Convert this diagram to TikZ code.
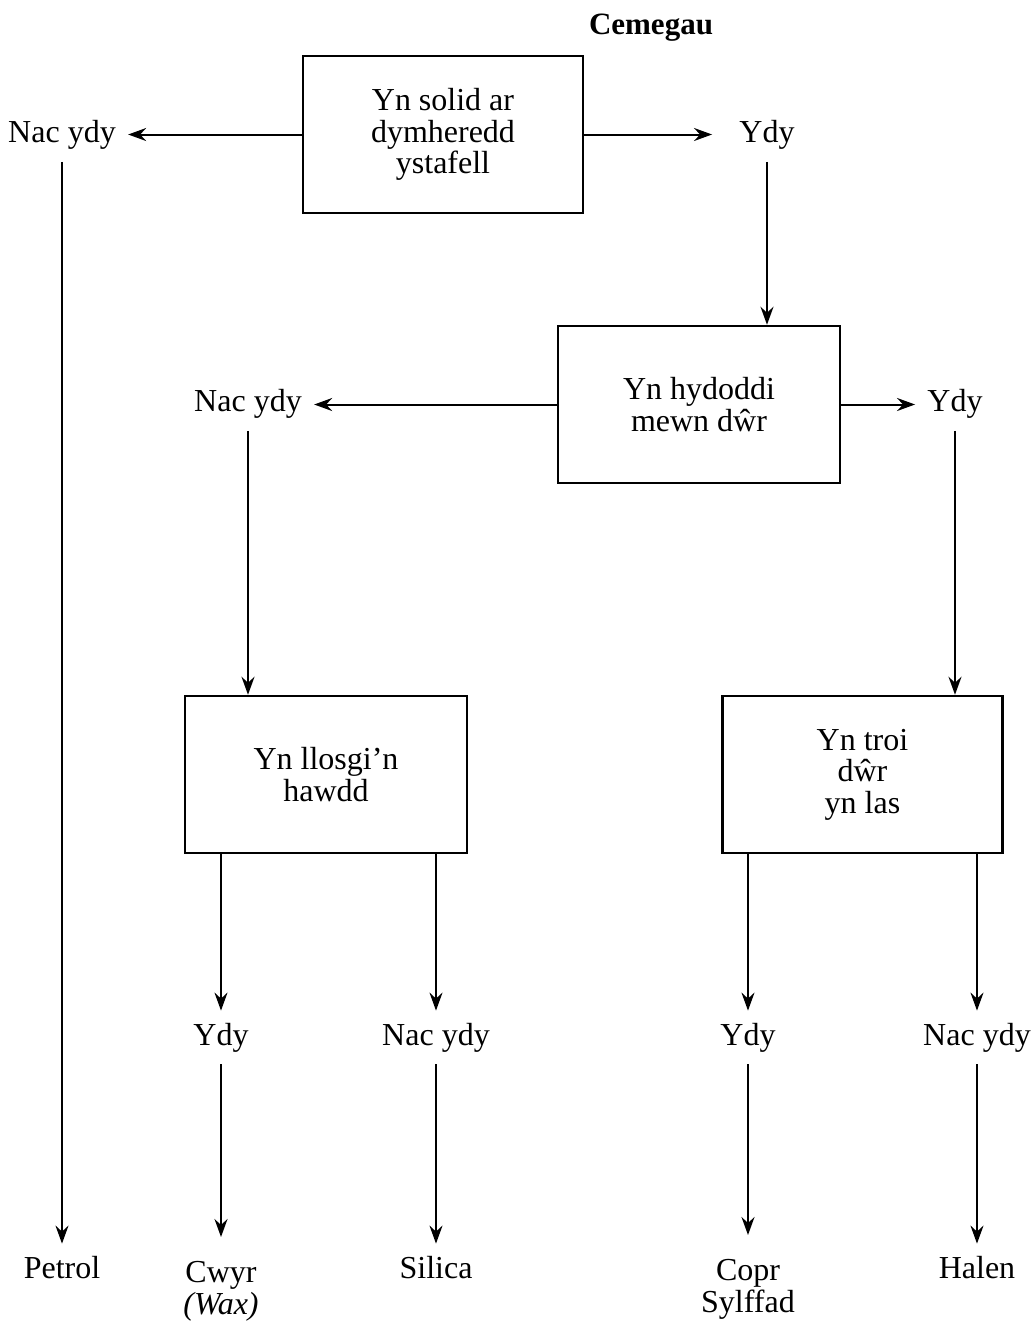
\documentclass[tikz,border=0pt]{standalone}
\usepackage{fontspec}
\setmainfont{Liberation Serif}
\usetikzlibrary{arrows.meta}

\begin{document}
\begin{tikzpicture}[x=0.5pt, y=-0.5pt,
    >={Stealth[length=9pt,width=6.5pt,inset=3pt]},
    every node/.style={font=\fontsize{16}{15.8}\selectfont},
    box/.style={draw, line width=1.25pt, minimum width=140pt, minimum height=78.5pt, align=center, inner sep=0pt},
    answer/.style={inner sep=6pt, text height=11pt, text depth=3.5pt},
    result/.style={inner xsep=6pt, inner ysep=12pt, align=center, anchor=north},
    arr/.style={->, line width=1pt}]
    \useasboundingbox (0, 0) rectangle (1033, 1324);
    \node [font=\fontsize{15.5}{16}\selectfont\bfseries, anchor=base] (title) at (651, 34) {Cemegau};

    \node [box] (solid) at (443, 134.5) {Yn solid ar\\dymheredd\\ystafell};
    \node [answer] (no1) at (62, 135) {Nac ydy};
    \node [answer] (yes1) at (767, 135) {Ydy};

    \node [box, minimum width=141pt] (dissolve) at (699, 404.5) {Yn hydoddi\\mewn dŵr};
    \node [answer] (no2) at (248, 404) {Nac ydy};
    \node [answer] (yes2) at (955, 404) {Ydy};

    \node [box, minimum width=141pt] (burn) at (326, 774.5) {Yn llosgi’n\\hawdd};
    \node [box] (blue) at (862.5, 774.5) {Yn troi\\dŵr\\yn las};

    \node [answer] (yes3) at (221, 1037.5) {Ydy};
    \node [answer] (no3) at (436, 1037.5) {Nac ydy};
    \node [answer] (yes4) at (748, 1037.5) {Ydy};
    \node [answer] (no4) at (977, 1037.5) {Nac ydy};

    \node [answer] (petrol) at (62, 1270.5) {Petrol};
    \node [result] (wax) at (221, 1237) {Cwyr\\\textit{(Wax)}};
    \node [answer] (silica) at (436, 1270.5) {Silica};
    \node [result] (copr) at (748, 1235) {Copr\\Sylffad};
    \node [answer] (halen) at (977, 1270.5) {Halen};

    \draw [arr] (solid.west) -- (solid.west -| no1.east);
    \draw [arr, shorten >=7.5pt] (solid.east) -- (solid.east -| yes1.west);
    \draw [arr] (no1) -- (petrol);
    \draw [arr] (yes1) -- (dissolve.north -| yes1);

    \draw [arr] (dissolve.west) -- (dissolve.west -| no2.east);
    \draw [arr] (dissolve.east) -- (dissolve.east -| yes2.west);
    \draw [arr] (no2) -- (burn.north -| no2);
    \draw [arr] (yes2) -- (blue.north -| yes2);

    \draw [arr] (burn.south -| yes3) -- (yes3);
    \draw [arr] (burn.south -| no3) -- (no3);
    \draw [arr] (blue.south -| yes4) -- (yes4);
    \draw [arr] (blue.south -| no4) -- (no4);

    \draw [arr] (yes3) -- (wax);
    \draw [arr] (no3) -- (silica);
    \draw [arr] (yes4) -- (copr);
    \draw [arr] (no4) -- (halen);
\end{tikzpicture}
\end{document}
